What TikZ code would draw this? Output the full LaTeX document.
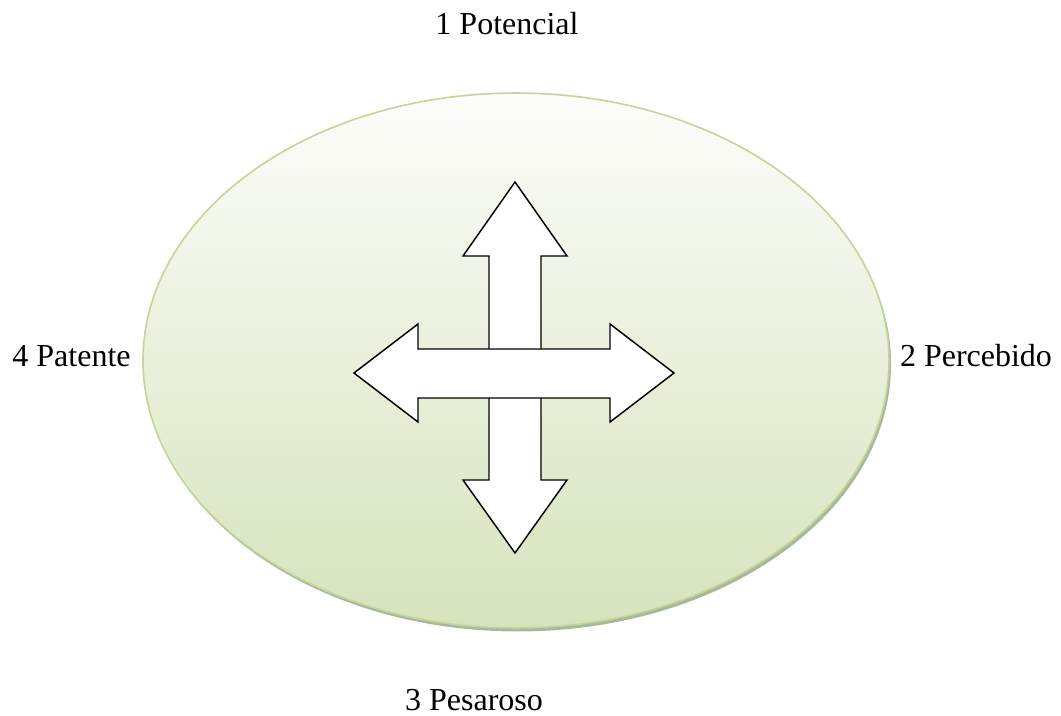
\documentclass[tikz,border=0pt]{standalone}
\usepackage{fontspec}
\setmainfont{Liberation Serif}
\definecolor{elltop}{HTML}{FDFDFB}
\definecolor{ellbot}{HTML}{D6E3BC}
\definecolor{ellborder}{HTML}{C2D69B}
\definecolor{ellshadow}{HTML}{A9B896}
\tikzset{
  lbl/.style={anchor=base, font=\fontsize{24}{28}\selectfont, inner sep=0pt},
  arrowshape/.style={draw=black, fill=white, line width=1.1pt, line join=miter}
}
\begin{document}
\begin{tikzpicture}[x=0.75pt,y=-0.75pt]
\useasboundingbox (0,0) rectangle (1061,716);
% shadow
\fill[ellshadow] (518,364) ellipse [x radius=279.75pt, y radius=200.6pt];
% ellipse
\shade[top color=elltop, bottom color=ellbot, draw=ellborder, line width=1.2pt]
  (516,360.5) ellipse [x radius=279.75pt, y radius=200.6pt];
% vertical double arrow
\filldraw[arrowshape] (515,182) -- (567,256) -- (541,256) -- (541,480) -- (567,480)
  -- (515,553) -- (463,480) -- (489,480) -- (489,256) -- (463,256) -- cycle;
% horizontal double arrow
\filldraw[arrowshape] (354,373) -- (418,324) -- (418,349) -- (610,349) -- (610,324)
  -- (674,373) -- (610,422) -- (610,398) -- (418,398) -- (418,422) -- cycle;
% labels
\node[lbl] (potencial) at (507,35) {1 Potencial};
\node[lbl] (percebido) at (976,367) {2 Percebido};
\node[lbl] (pesaroso) at (474,710) {3 Pesaroso};
\node[lbl] (patente) at (71.5,367) {4 Patente};
\end{tikzpicture}
\end{document}
